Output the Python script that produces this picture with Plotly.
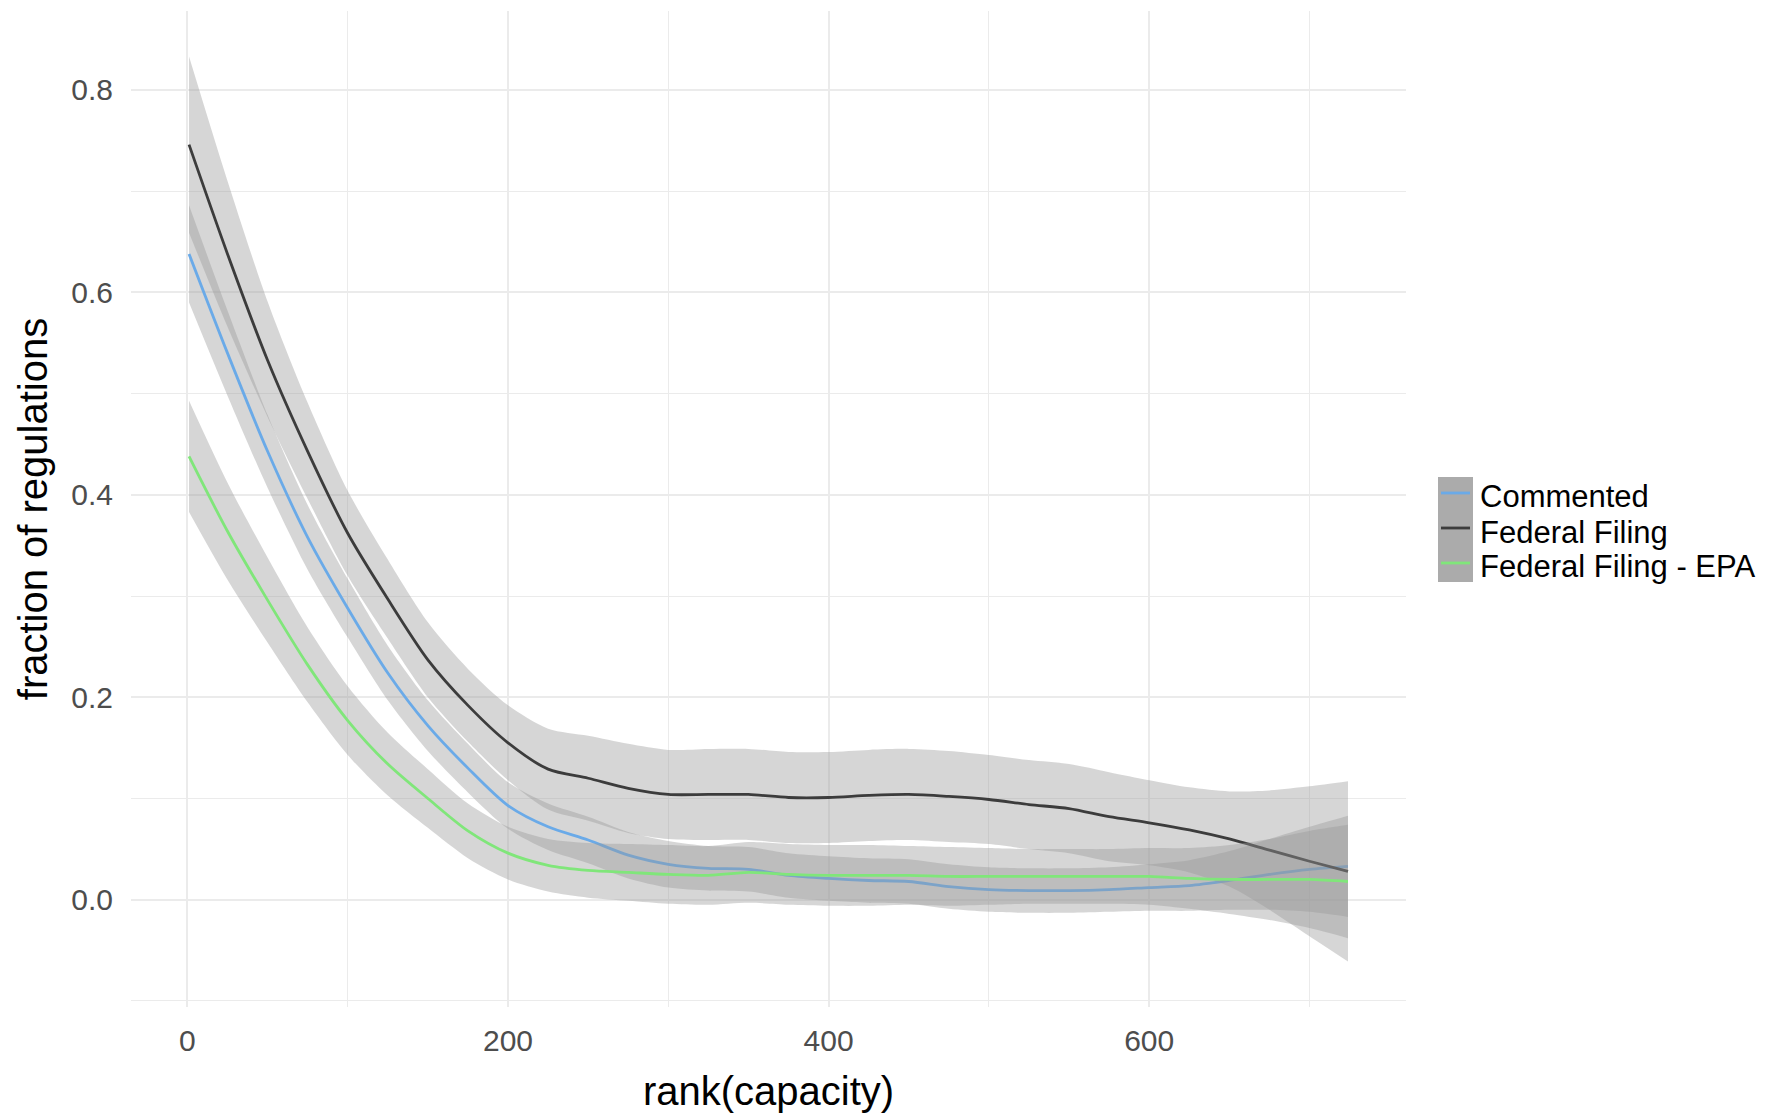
import plotly.graph_objects as go

# ---------------- data ----------------
rank = [1, 25, 50, 75, 100, 125, 150, 175, 200, 225, 250, 275, 300, 325, 350,
        375, 400, 425, 450, 475, 500, 525, 550, 575, 600, 625, 650, 675, 700, 724]

commented_fit = [0.638, 0.540, 0.443, 0.358, 0.288, 0.224, 0.172, 0.130, 0.093, 0.072,
                 0.059, 0.044, 0.035, 0.031, 0.030, 0.024, 0.021, 0.019, 0.018, 0.013,
                 0.010, 0.009, 0.009, 0.010, 0.012, 0.014, 0.019, 0.025, 0.030, 0.033]
commented_lo = [0.590, 0.498, 0.407, 0.326, 0.259, 0.197, 0.147, 0.106, 0.070, 0.049,
                0.036, 0.021, 0.012, 0.009, 0.008, 0.002, -0.001, -0.003, -0.004, -0.009,
                -0.012, -0.013, -0.013, -0.012, -0.011, -0.011, -0.010, -0.010, -0.012, -0.017]
commented_hi = [0.686, 0.582, 0.479, 0.390, 0.317, 0.251, 0.197, 0.154, 0.116, 0.095,
                0.082, 0.067, 0.058, 0.053, 0.052, 0.046, 0.043, 0.041, 0.040, 0.035,
                0.032, 0.031, 0.031, 0.032, 0.035, 0.039, 0.048, 0.060, 0.072, 0.083]

federal_fit = [0.746, 0.638, 0.533, 0.443, 0.362, 0.297, 0.237, 0.192, 0.155, 0.129,
               0.120, 0.110, 0.104, 0.104, 0.104, 0.101, 0.101, 0.103, 0.104, 0.102,
               0.099, 0.094, 0.090, 0.082, 0.076, 0.069, 0.060, 0.049, 0.038, 0.028]
federal_lo = [0.659, 0.566, 0.477, 0.396, 0.320, 0.258, 0.200, 0.156, 0.118, 0.089,
              0.078, 0.066, 0.060, 0.059, 0.059, 0.056, 0.056, 0.058, 0.059, 0.057,
              0.055, 0.050, 0.046, 0.038, 0.034, 0.027, 0.013, -0.010, -0.036, -0.061]
federal_hi = [0.833, 0.710, 0.591, 0.491, 0.404, 0.336, 0.274, 0.228, 0.192, 0.169,
              0.162, 0.154, 0.148, 0.149, 0.149, 0.146, 0.146, 0.148, 0.149, 0.147,
              0.143, 0.138, 0.134, 0.126, 0.118, 0.111, 0.107, 0.108, 0.112, 0.117]

epa_fit = [0.438, 0.364, 0.296, 0.232, 0.177, 0.134, 0.100, 0.068, 0.046, 0.034,
           0.029, 0.027, 0.025, 0.024, 0.027, 0.025, 0.024, 0.024, 0.024, 0.023,
           0.023, 0.023, 0.023, 0.023, 0.023, 0.021, 0.020, 0.020, 0.020, 0.018]
epa_lo = [0.383, 0.316, 0.254, 0.195, 0.143, 0.103, 0.071, 0.041, 0.020, 0.008,
          0.002, -0.001, -0.004, -0.005, -0.003, -0.005, -0.006, -0.006, -0.005, -0.006,
          -0.005, -0.004, -0.004, -0.004, -0.005, -0.009, -0.014, -0.020, -0.028, -0.038]
epa_hi = [0.493, 0.412, 0.338, 0.269, 0.211, 0.165, 0.129, 0.095, 0.072, 0.060,
          0.056, 0.055, 0.054, 0.053, 0.057, 0.055, 0.054, 0.054, 0.053, 0.052,
          0.051, 0.050, 0.050, 0.050, 0.051, 0.051, 0.054, 0.060, 0.068, 0.074]

series_names = ["Commented", "Federal Filing", "Federal Filing - EPA"]
series_colors = ["#6aaae8", "#3c3c3c", "#80e67a"]

x_ticks = [0, 200, 400, 600]
y_ticks = [0.0, 0.2, 0.4, 0.6, 0.8]

# ---------------- figure ----------------
W, H = 1768, 1117
ML, MR, MT, MB = 131, 362, 11, 110
PW, PH = W - ML - MR, H - MT - MB

FONT = "Liberation Sans, Arial, sans-serif"
RIBBON = "rgba(153,153,153,0.4)"

fig = go.Figure()
series = [
    (commented_fit, commented_lo, commented_hi),
    (federal_fit, federal_lo, federal_hi),
    (epa_fit, epa_lo, epa_hi),
]
for (fit, lo, hi), name, col in zip(series, series_names, series_colors):
    fig.add_trace(go.Scatter(x=rank, y=lo, mode="lines", line=dict(width=0, shape="spline", smoothing=0.8),
                             showlegend=False, hoverinfo="skip"))
    fig.add_trace(go.Scatter(x=rank, y=hi, mode="lines", line=dict(width=0, shape="spline", smoothing=0.8),
                             fill="tonexty", fillcolor=RIBBON, showlegend=False, hoverinfo="skip"))
    fig.add_trace(go.Scatter(x=rank, y=fit, mode="lines", name=name,
                             line=dict(color=col, width=2.8, shape="spline", smoothing=0.8),
                             showlegend=False))


def px_x(X):
    return (X - ML) / PW


def px_y(Y):
    return (H - MB - Y) / PH


# manual legend (ggplot style)
shapes = [dict(type="rect", xref="paper", yref="paper",
               x0=px_x(1438), x1=px_x(1473), y0=px_y(582), y1=px_y(477),
               fillcolor="#ababab", line=dict(width=0), layer="above")]
annotations = []
row_line_y = [493, 528, 563]
row_text_y = [497, 532, 566]
for name, col, ly, ty in zip(series_names, series_colors, row_line_y, row_text_y):
    shapes.append(dict(type="line", xref="paper", yref="paper",
                       x0=px_x(1441), x1=px_x(1470), y0=px_y(ly), y1=px_y(ly),
                       line=dict(color=col, width=2.8), layer="above"))
    annotations.append(dict(text=name, xref="paper", yref="paper",
                            x=px_x(1478), y=px_y(ty), xanchor="left", yanchor="middle",
                            showarrow=False, font=dict(family=FONT, size=31, color="#000000")))

fig.update_layout(
    width=W, height=H,
    margin=dict(l=ML, r=MR, t=MT, b=MB, pad=0, autoexpand=False),
    paper_bgcolor="white", plot_bgcolor="white",
    showlegend=False,
    shapes=shapes, annotations=annotations,
    font=dict(family=FONT),
)
fig.update_xaxes(
    range=[-35.2, 760.2], tickvals=x_ticks, ticktext=[str(v) for v in x_ticks],
    showgrid=True, gridcolor="#ebebeb", gridwidth=1.6,
    minor=dict(tickvals=[100, 300, 500, 700], showgrid=True, gridcolor="#ebebeb", gridwidth=1.0),
    zeroline=False, showline=False, automargin=False,
    ticks="outside", ticklen=7, tickcolor="rgba(0,0,0,0)",
    tickfont=dict(family=FONT, size=30, color="#4d4d4d"),
    title=dict(text="rank(capacity)", font=dict(family=FONT, size=40, color="#000000"), standoff=20),
)
fig.update_yaxes(
    range=[-0.106, 0.878], tickvals=y_ticks, ticktext=[f"{v:.1f}" for v in y_ticks],
    showgrid=True, gridcolor="#ebebeb", gridwidth=1.6,
    minor=dict(tickvals=[-0.1, 0.1, 0.3, 0.5, 0.7], showgrid=True, gridcolor="#ebebeb", gridwidth=1.0),
    zeroline=False, showline=False, automargin=False,
    ticks="outside", ticklen=11, tickcolor="rgba(0,0,0,0)",
    tickfont=dict(family=FONT, size=30, color="#4d4d4d"),
    title=dict(text="fraction of regulations", font=dict(family=FONT, size=40, color="#000000"), standoff=11),
)

fig.write_html(
    "out.html",
    config={"displayModeBar": False},
    post_script="document.body.style.margin='0px';document.body.style.overflow='hidden';",
)
